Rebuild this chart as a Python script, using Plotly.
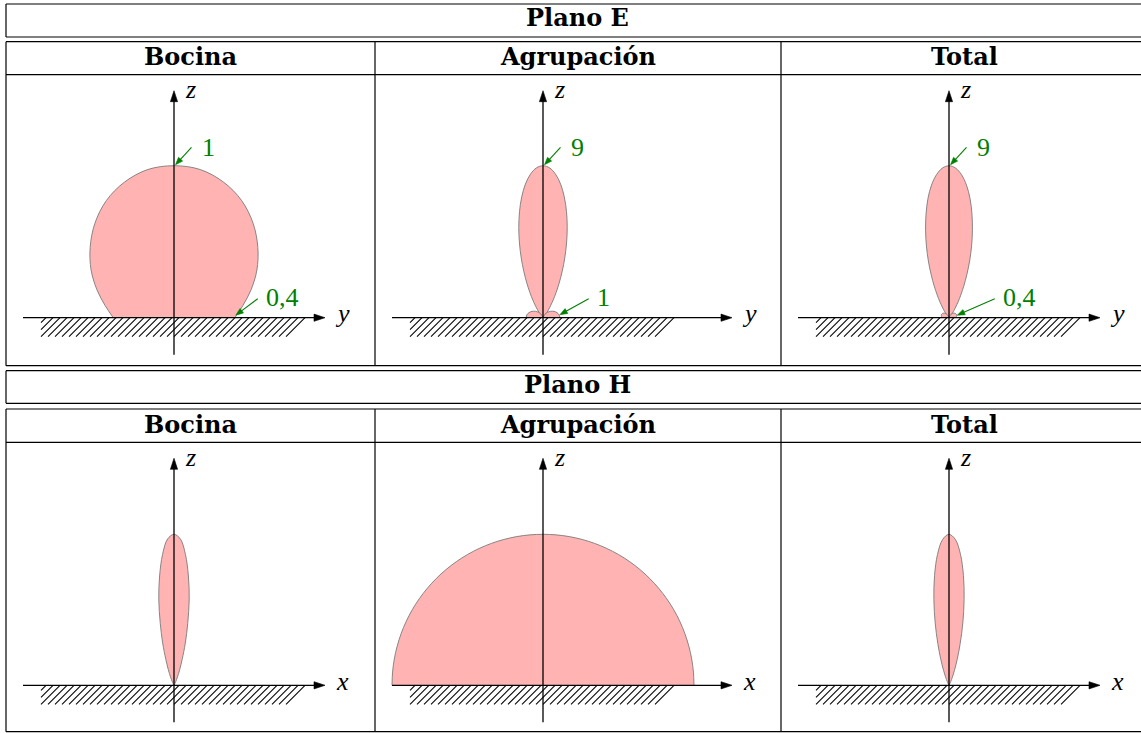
import numpy as np
import plotly.graph_objects as go

W, H = 1141, 733

# ---------------------------------------------------------------- text
plane_titles = ["Plano E", "Plano H"]
column_titles = ["Bocina", "Agrupación", "Total"]
ground_axis_names = ["y", "x"]          # horizontal axis of each plane
vertical_axis_name = "z"

# ---------------------------------------------------------------- patterns
# Half patterns: angle from the +z axis (degrees) and field level.
# E plane
horn_e_theta = [0, 10, 20, 30, 40, 50, 60, 70, 80, 90]
horn_e_r = [1.00, 0.99, 0.95, 0.89, 0.81, 0.72, 0.63, 0.54, 0.46, 0.40]

lobe_e_theta = [0, 2.5, 5, 7.5, 10, 12.5, 15, 17.5, 20, 22.5, 25, 27.5, 30,
                35, 40, 45, 50, 60]
array_e_main_r = [9.00, 8.88, 8.53, 7.98, 7.26, 6.43, 5.54, 4.64, 3.77, 2.97,
                  2.27, 1.68, 1.20, 0.55, 0.22, 0.07, 0.02, 0.00]
total_e_main_r = [9.00, 8.87, 8.50, 7.92, 7.17, 6.28, 5.36, 4.44, 3.57, 2.76,
                  2.08, 1.51, 1.06, 0.47, 0.17, 0.05, 0.01, 0.00]

side_e_theta = [20, 30, 40, 50, 60, 70, 80, 90]
array_e_side_r = [0.00, 0.25, 0.41, 0.59, 0.75, 0.88, 0.97, 1.00]
total_e_side_r = [0.00, 0.22, 0.33, 0.42, 0.47, 0.48, 0.45, 0.40]

# H plane
lobe_h_theta = [0, 2.5, 5, 7.5, 10, 12.5, 15, 17.5, 20, 22.5, 25, 27.5, 30, 40]
horn_h_r = [1.00, 0.97, 0.87, 0.73, 0.58, 0.42, 0.29, 0.18, 0.11, 0.06, 0.03,
            0.01, 0.01, 0.00]
total_h_r = [9.00, 8.70, 7.84, 6.60, 5.19, 3.80, 2.58, 1.63, 0.96, 0.52, 0.26,
             0.12, 0.05, 0.00]
array_h_theta = [0, 5, 10, 15, 20, 25, 30, 35, 40, 45, 50, 55, 60, 65, 70,
                 75, 80, 85, 90]
array_h_r = [9.0, 9.0, 9.0, 9.0, 9.0, 9.0, 9.0, 9.0, 9.0, 9.0, 9.0, 9.0, 9.0,
             9.0, 9.0, 9.0, 9.0, 9.0, 9.0]

# lobes per cell: (kind, theta, r)
cell_lobes = {
    (0, 0): [("main", horn_e_theta, horn_e_r)],
    (0, 1): [("main", lobe_e_theta, array_e_main_r),
             ("side", side_e_theta, array_e_side_r)],
    (0, 2): [("main", lobe_e_theta, total_e_main_r),
             ("side", side_e_theta, total_e_side_r)],
    (1, 0): [("main", lobe_h_theta, horn_h_r)],
    (1, 1): [("main", array_h_theta, array_h_r)],
    (1, 2): [("main", lobe_h_theta, total_h_r)],
}

# value call-outs: maximum along z and level along the ground
cell_callouts = {
    (0, 0): (horn_e_r[0], horn_e_r[-1]),
    (0, 1): (array_e_main_r[0], array_e_side_r[-1]),
    (0, 2): (total_e_main_r[0], total_e_side_r[-1]),
}

# ---------------------------------------------------------------- layout (px)
col_edges = [6, 375, 781, 1148]
title_box = [(4, 37), (370.7, 403.3)]
header_box = [(41.7, 74.7), (409, 442.3)]
content_box = [(74.7, 365.7), (442.3, 731.7)]
origin_dx, origin_dy = 168, 243
peak_px = [152, 151]
z_up, z_down = 227, 37
ground_left = 151
ground_right = [151, 189, 151]
hatch_half, hatch_depth, hatch_step = 133, 19, 7.0

FILL = "#ffb3b3"
EDGE = "#7a7a7a"
GREEN = "#008000"
INK = "black"

HEAD_FONT = dict(family="DejaVu Serif", size=24, color=INK)
MATH_FONT = dict(family="Liberation Serif", size=26, color=INK)
NUM_FONT = dict(family="Liberation Serif", size=26, color=GREEN)


def fmt(v):
    return f"{v:g}".replace(".", ",")


def lobe_paths(kind, theta, r):
    t = np.radians(np.asarray(theta, dtype=float))
    r = np.asarray(r, dtype=float)
    if kind == "main":
        tt = np.concatenate([-t[::-1], t[1:]])
        rr = np.concatenate([r[::-1], r[1:]])
        return [(rr * np.sin(tt), rr * np.cos(tt))]
    x, z = r * np.sin(t), r * np.cos(t)
    return [(x, z), (-x, z)]


fig = go.Figure()
annotations = []
shapes = []
axes_layout = {}


def add_head(xr, yr, tip, direction, length, half_w, S, color):
    d = np.asarray(direction, float)
    d = d / np.hypot(*d)
    nrm = np.array([-d[1], d[0]])
    tip_px = np.asarray(tip, float) * S
    base = tip_px - length * d
    pts = np.array([tip_px, base + half_w * nrm, base - half_w * nrm, tip_px]) / S
    fig.add_trace(go.Scatter(x=pts[:, 0], y=pts[:, 1], xaxis=xr, yaxis=yr,
                             mode="lines", fill="toself", fillcolor=color,
                             line=dict(color=color, width=0.6),
                             hoverinfo="skip", showlegend=False))


def add_seg(xr, yr, xs, ys, color, width):
    fig.add_trace(go.Scatter(x=xs, y=ys, xaxis=xr, yaxis=yr, mode="lines",
                             line=dict(color=color, width=width),
                             hoverinfo="skip", showlegend=False))


n = 0
for row in range(2):
    top, bottom = content_box[row]
    for col in range(3):
        n += 1
        xr = "x" if n == 1 else f"x{n}"
        yr = "y" if n == 1 else f"y{n}"
        lobes = cell_lobes[(row, col)]
        peak = lobes[0][2][0]
        S = peak_px[row] / peak
        left, right = col_edges[col], min(col_edges[col + 1], W)
        ox, oy = col_edges[col] + origin_dx, top + origin_dy

        axes_layout["xaxis" if n == 1 else f"xaxis{n}"] = dict(
            domain=[left / W, right / W], range=[(left - ox) / S, (right - ox) / S],
            visible=False, fixedrange=True, anchor=yr)
        axes_layout["yaxis" if n == 1 else f"yaxis{n}"] = dict(
            domain=[1 - bottom / H, 1 - top / H], range=[(oy - bottom) / S, (oy - top) / S],
            visible=False, fixedrange=True, anchor=xr)

        # hatched ground
        hx, hy = [], []
        for c in np.arange(-hatch_half - hatch_depth + 3, hatch_half, hatch_step):
            ya = max(-hatch_depth, -hatch_half - c)
            yb = min(0.0, hatch_half - c)
            if yb > ya:
                hx += [(ya + c) / S, (yb + c) / S, None]
                hy += [ya / S, yb / S, None]
        add_seg(xr, yr, hx, hy, INK, 1.1)

        # radiation lobes
        for kind, theta, r in lobes:
            for px_, pz_ in lobe_paths(kind, theta, r):
                fig.add_trace(go.Scatter(x=px_, y=pz_, xaxis=xr, yaxis=yr,
                                         mode="lines", fill="toself",
                                         fillcolor=FILL,
                                         line=dict(color=EDGE, width=0.9,
                                                   shape="spline", smoothing=1.0),
                                         hoverinfo="skip", showlegend=False))

        # coordinate axes
        gr = ground_right[col]
        add_seg(xr, yr, [-ground_left / S, (gr - 6) / S], [0, 0], INK, 1.3)
        add_head(xr, yr, (gr / S, 0), (1, 0), 11, 3.6, S, INK)
        add_seg(xr, yr, [0, 0], [-z_down / S, (z_up - 6) / S], INK, 1.3)
        add_head(xr, yr, (0, z_up / S), (0, 1), 11, 3.6, S, INK)

        annotations.append(dict(xref=xr, yref=yr, x=0, y=z_up / S,
                                text=f"<i>{vertical_axis_name}</i>",
                                showarrow=False, xshift=16, yshift=1,
                                font=MATH_FONT, xanchor="center", yanchor="middle"))
        annotations.append(dict(xref=xr, yref=yr, x=gr / S, y=0,
                                text=f"<i>{ground_axis_names[row]}</i>",
                                showarrow=False, xshift=17, yshift=4,
                                font=MATH_FONT, xanchor="center", yanchor="middle"))

        # value call-outs
        if (row, col) in cell_callouts:
            v_top, v_ground = cell_callouts[(row, col)]
            # (tip shift px, tail offset px, text offset px)
            top_geo = ((1.5, 1.0), (17.5, 18.3), (34.5, 18))
            ground_geo = {0: ((1.0, 2.5), (22.9, 19), (48, 20)),
                          1: ((0.0, 3.0), (28.8, 19), (43.5, 20)),
                          2: ((1.5, 2.5), (39.0, 19), (64, 20))}[col]
            for (vx, vy), geo, value in (((0, v_top), top_geo, v_top),
                                          ((v_ground, 0), ground_geo, v_ground)):
                (sx, sy), (tx, ty), (lx, ly) = geo
                tip = np.array([vx + sx / S, vy + sy / S])
                tail = np.array([vx + tx / S, vy + ty / S])
                d = tip - tail
                base = tip - d / np.hypot(*d) * 6 / S
                add_seg(xr, yr, [tail[0], base[0]], [tail[1], base[1]], GREEN, 1.1)
                add_head(xr, yr, tuple(tip), tuple(d), 7.5, 2.8, S, GREEN)
                annotations.append(dict(xref=xr, yref=yr, x=vx, y=vy,
                                        text=fmt(value), showarrow=False,
                                        xshift=lx, yshift=ly, font=NUM_FONT,
                                        xanchor="center", yanchor="middle"))

# ---------------------------------------------------------------- table
def hline(py, x0=col_edges[0], x1=col_edges[-1]):
    shapes.append(dict(type="line", xref="paper", yref="paper",
                       x0=x0 / W, x1=x1 / W, y0=1 - py / H, y1=1 - py / H,
                       line=dict(color=INK, width=1.2)))


def vline(px_, y0, y1):
    shapes.append(dict(type="line", xref="paper", yref="paper",
                       x0=px_ / W, x1=px_ / W, y0=1 - y0 / H, y1=1 - y1 / H,
                       line=dict(color=INK, width=1.2)))


table_mid = (col_edges[0] + col_edges[-1]) / 2
for row in range(2):
    t0, t1 = title_box[row]
    h0, h1 = header_box[row]
    c0, c1 = content_box[row]
    for py in (t0, t1, h0, h1, c1):
        hline(py)
    vline(col_edges[0], t0, t1)
    vline(col_edges[-1], t0, t1)
    for cx in col_edges:
        vline(cx, h0, c1)
    annotations.append(dict(xref="paper", yref="paper", x=table_mid / W,
                            y=1 - (t0 + 13.5) / H, text=f"<b>{plane_titles[row]}</b>",
                            showarrow=False, font=HEAD_FONT,
                            xanchor="center", yanchor="middle"))
    for col in range(3):
        cx = (col_edges[col] + col_edges[col + 1]) / 2
        annotations.append(dict(xref="paper", yref="paper", x=cx / W,
                                y=1 - (h0 + 15.3) / H,
                                text=f"<b>{column_titles[col]}</b>",
                                showarrow=False, font=HEAD_FONT,
                                xanchor="center", yanchor="middle"))

fig.update_layout(
    width=W, height=H, margin=dict(l=0, r=0, t=0, b=0),
    paper_bgcolor="white", plot_bgcolor="white",
    showlegend=False, annotations=annotations, shapes=shapes,
    **axes_layout,
)

fig.write_html("out.html", config={"displayModeBar": False, "staticPlot": True})
